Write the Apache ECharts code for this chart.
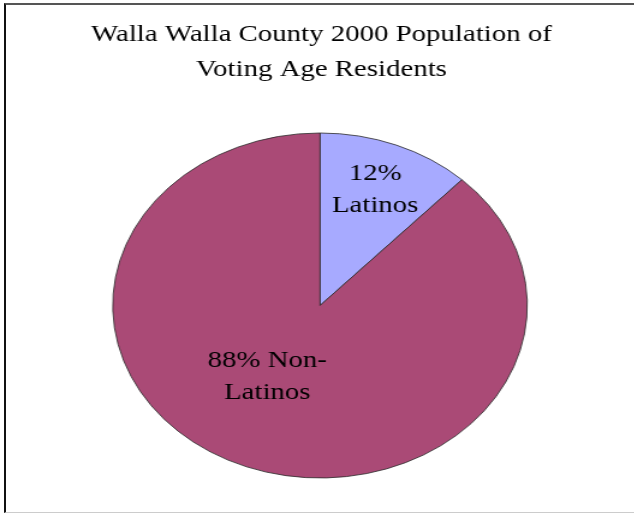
<!DOCTYPE html>
<html><head><meta charset="utf-8">
<script src="https://cdn.jsdelivr.net/npm/echarts@6/dist/echarts.min.js"></script>
<style>
html,body{margin:0;background:#fff}
#frame{position:absolute;left:4px;top:3px;width:630px;height:510px;border-top:2px solid #555;border-left:2px solid #111;border-bottom:1px solid #ccc;box-sizing:border-box;}
#chart{position:absolute;left:0;top:0;width:528px;height:514px;transform:scaleX(1.2017);transform-origin:0 0;}
</style></head><body>
<div id="frame"></div>
<div id="chart"></div>
<script>
// ---- data ----
const titleLines = ['Walla Walla County 2000 Population of', 'Voting Age Residents'];
const categories = ['Latinos', 'Non-Latinos'];
const values = [12, 88];

// ---- styling (not data) ----
const sliceColors = ['#A7AAFF', '#AA4A76'];
const labelNudges = [[13, -33], [-11, -12]];
const fontFam = 'Liberation Serif';

const chart = echarts.init(document.getElementById('chart'));
chart.setOption({
  animation: false,
  title: {
    text: titleLines.join('\n'),
    left: 267.5,
    top: 17.5,
    padding: 0,
    textAlign: 'center',
    textStyle: {fontFamily: fontFam, fontSize: 24, fontWeight: 'normal', color: '#000', lineHeight: 35}
  },
  series: [{
    type: 'pie',
    center: [266.3, 305.5],
    radius: [0, 172.5],
    startAngle: 90,
    clockwise: true,
    silent: true,
    emphasis: {disabled: true},
    itemStyle: {borderColor: '#2a2a2a', borderWidth: 0.8},
    label: {
      show: true,
      position: 'inside',
      fontFamily: fontFam,
      fontSize: 24,
      lineHeight: 32,
      color: '#000',
      align: 'center',
      formatter: p => {
        const pct = Math.round(p.percent) + '%';
        return p.name.includes('-') ? pct + ' ' + p.name.replace('-', '-\n') : pct + '\n' + p.name;
      }
    },
    labelLine: {show: false},
    labelLayout: params => ({dx: labelNudges[params.dataIndex][0], dy: labelNudges[params.dataIndex][1]}),
    data: categories.map((c, i) => ({name: c, value: values[i], itemStyle: {color: sliceColors[i]}}))
  }]
});
</script>
</body></html>
